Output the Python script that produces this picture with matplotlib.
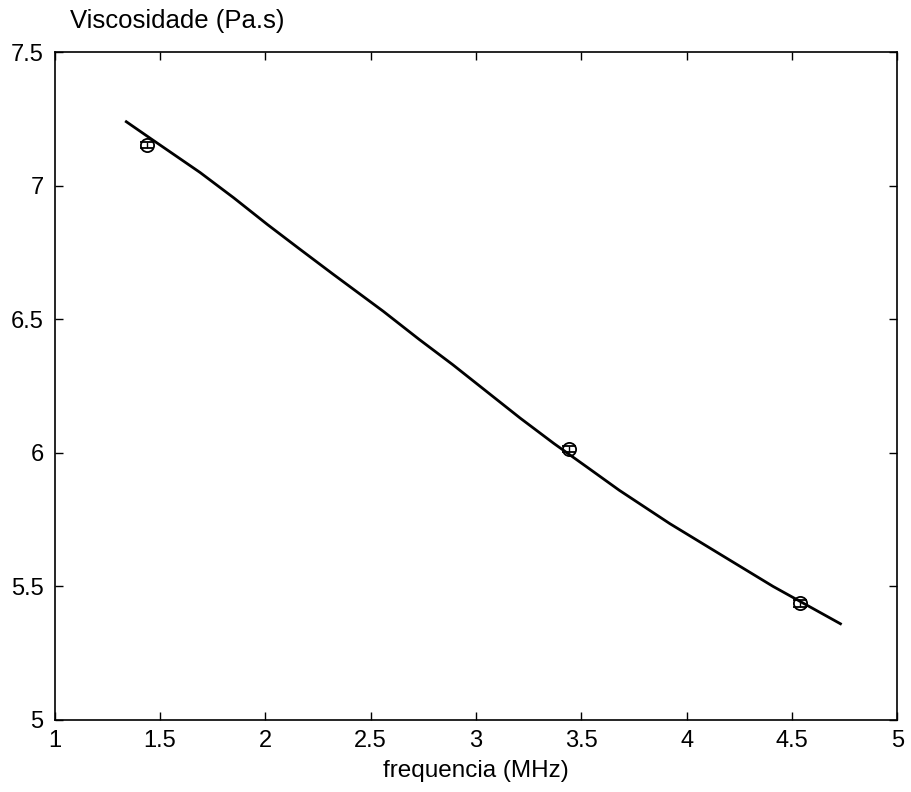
import numpy as np
import matplotlib.pyplot as plt

plt.rcParams['font.family'] = ['Liberation Sans', 'DejaVu Sans']

# fitted viscosity curve
freq_fit = [1.34, 1.45, 1.69, 1.85, 2.01, 2.16, 2.32, 2.56, 2.73, 2.89, 3.05,
            3.21, 3.37, 3.53, 3.68, 3.92, 4.17, 4.41, 4.73]
visc_fit = [7.24, 7.18, 7.05, 6.955, 6.855, 6.765, 6.67, 6.53, 6.425, 6.33, 6.23,
            6.13, 6.035, 5.945, 5.86, 5.735, 5.615, 5.50, 5.36]

# measured points
freq_meas = [1.44, 3.44, 4.54]
visc_meas = [7.152, 6.015, 5.436]
visc_err = [0.012, 0.012, 0.012]

fig = plt.figure(figsize=(9.11, 7.92), dpi=100)
ax = fig.add_axes([0.060, 0.091, 0.925, 0.843])

ax.plot(freq_fit, visc_fit, color='black', linewidth=2.0)
ax.errorbar(freq_meas, visc_meas, yerr=visc_err, fmt='o', color='black',
            mfc='none', markersize=9.5, mew=1.3, capsize=5, elinewidth=1.0)

ax.set_xlim(1, 5)
ax.set_ylim(5, 7.5)
ax.set_xticks(np.arange(1, 5.01, 0.5))
ax.set_xticklabels(['1', '1.5', '2', '2.5', '3', '3.5', '4', '4.5', '5'])
ax.set_yticks(np.arange(5, 7.51, 0.5))
ax.set_yticklabels(['5', '5.5', '6', '6.5', '7', '7.5'])
ax.tick_params(direction='in', length=6, width=1, labelsize=17,
               top=True, right=True)
ax.tick_params(axis='x', pad=7)
ax.tick_params(axis='y', pad=8)
for s in ax.spines.values():
    s.set_linewidth(1.2)

ax.set_xlabel('frequencia (MHz)', fontsize=17.5, labelpad=6)
fig.text(0.077, 0.974, 'Viscosidade (Pa.s)', fontsize=18.5, ha='left', va='center')

fig.savefig('out.png', dpi=100, facecolor='white')
